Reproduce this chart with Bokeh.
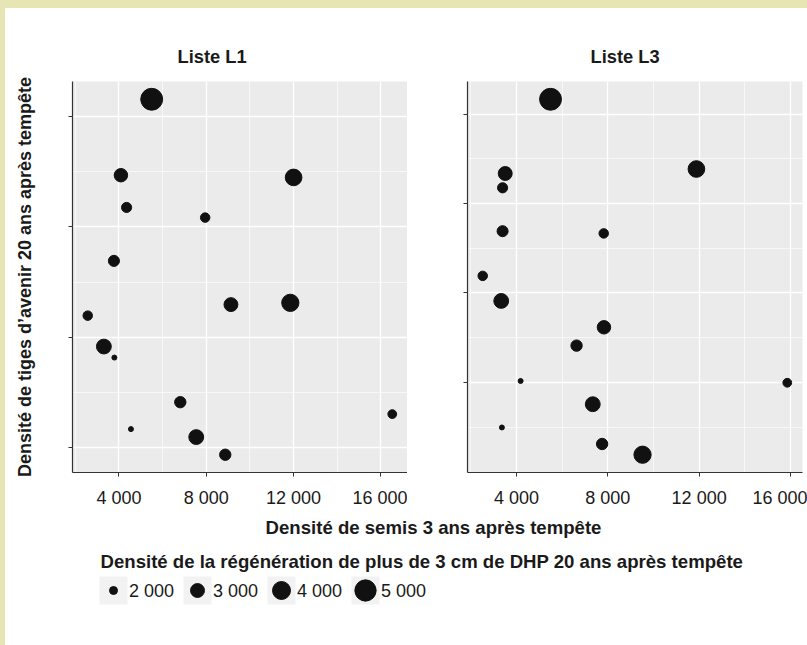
from bokeh.plotting import figure
from bokeh.layouts import column, row
from bokeh.models import (Spacer, Range1d, FixedTicker, CustomJSTickFormatter,
                          Label, ColumnDataSource)
from bokeh.core.properties import value
from bokeh.embed import file_html
from bokeh.resources import INLINE

# ---------------- data ----------------
l1_semis = [5500, 4090, 4350, 7950, 12000, 3770, 9130, 11850, 2570, 3310, 3790, 6810, 4550, 7540, 8870, 16520]
l1_tiges = [1039, 867, 794, 771, 862, 673, 574, 578, 549, 479, 454, 353, 292, 274, 234, 326]
l1_regen = [5200, 2900, 2300, 2200, 3650, 2450, 3000, 3800, 2200, 3200, 1700, 2500, 1700, 3200, 2500, 2100]

l3_semis = [5490, 3505, 3390, 11880, 3390, 7820, 2520, 3330, 7830, 6630, 4180, 15860, 7340, 3360, 7750, 9520]
l3_tiges = [1033, 867, 835, 877, 738, 733, 638, 582, 523, 482, 403, 399, 351, 299, 262, 238]
l3_regen = [5200, 3000, 2300, 3650, 2450, 2200, 2200, 3200, 2900, 2500, 1700, 2100, 3200, 1700, 2500, 3800]

x_ticks = [4000, 8000, 12000, 16000]
l1_y_ticks = [250, 500, 750, 1000]
l3_y_ticks = [400, 600, 800, 1000]
legend_values = [2000, 3000, 4000, 5000]
legend_labels = ["2 000", "3 000", "4 000", "5 000"]

panel_titles = ["Liste L1", "Liste L3"]
y_title = "Densité de tiges d’avenir 20 ans après tempête"
x_title = "Densité de semis 3 ans après tempête"
legend_title = "Densité de la régénération de plus de 3 cm de DHP 20 ans après tempête"

# ---------------- style ----------------
FONT = "Liberation Sans"
YELLOW = "#e6e5b3"
PANEL_BG = "#ebebeb"
KEY_BG = "#f2f2f2"
INK = "#111111"
TXT = "#1a1a1a"
AXIS = "#333333"


def size_of(v):
    # area-proportional size scale calibrated on the legend
    return (64 + 0.13 * (v - 2000)) ** 0.5


def expand(vals, f=0.05):
    lo, hi = min(vals), max(vals)
    pad = (hi - lo) * f
    return Range1d(lo - pad, hi + pad)


def minors(ticks):
    step = ticks[1] - ticks[0]
    return [ticks[0] - step / 2] + [t + step / 2 for t in ticks]


x_fmt = CustomJSTickFormatter(code="""
return Math.round(tick).toString().replace(/\\B(?=(\\d{3})+(?!\\d))/g, ' ');
""")
blank_fmt = CustomJSTickFormatter(code="return '';")


def panel(title, title_offset, xs, ys, regen, yticks, b_left, b_right, ylabel=None):
    p = figure(frame_width=335, frame_height=391,
               min_border_left=b_left, min_border_right=b_right,
               min_border_top=73, min_border_bottom=40,
               x_range=expand(xs), y_range=expand(ys),
               output_backend="svg", toolbar_location=None,
               background_fill_color=PANEL_BG, border_fill_color="white",
               outline_line_color=None, title=title)
    p.title.align = "left"
    p.title.offset = title_offset
    p.title.text_font = FONT
    p.title.text_font_size = "18.3px"
    p.title.text_font_style = "bold"
    p.title.text_color = TXT
    p.title.standoff = 30

    p.xaxis.ticker = FixedTicker(ticks=x_ticks, minor_ticks=minors(x_ticks))
    p.yaxis.ticker = FixedTicker(ticks=yticks, minor_ticks=minors(yticks))
    p.xaxis.formatter = x_fmt
    p.yaxis.formatter = blank_fmt
    for ax in (p.xaxis[0], p.yaxis[0]):
        ax.axis_line_color = AXIS
        ax.axis_line_width = 1.2
        ax.major_tick_line_color = AXIS
        ax.major_tick_out = 4
        ax.major_tick_in = 0
        ax.minor_tick_out = 0
        ax.minor_tick_in = 0
        ax.major_label_text_font = FONT
        ax.major_label_text_font_size = "18px"
        ax.major_label_text_color = TXT
    p.xaxis.major_label_standoff = 11
    if ylabel:
        p.yaxis.axis_label = ylabel
        p.yaxis.axis_label_text_font = FONT
        p.yaxis.axis_label_text_font_size = "18px"
        p.yaxis.axis_label_text_font_style = "bold"
        p.yaxis.axis_label_text_color = TXT
        p.yaxis.axis_label_standoff = 34

    for g in (p.xgrid[0], p.ygrid[0]):
        g.grid_line_color = "white"
        g.grid_line_width = 1.3
        g.minor_grid_line_color = "white"
        g.minor_grid_line_width = 0.6

    src = ColumnDataSource(dict(x=xs, y=ys, s=[size_of(v) for v in regen]))
    p.scatter("x", "y", size="s", source=src, fill_color=INK, line_color=INK)
    return p


p1 = panel(panel_titles[0], 105, l1_semis, l1_tiges, l1_regen, l1_y_ticks, 67, 0, y_title)
p2 = panel(panel_titles[1], 123, l3_semis, l3_tiges, l3_regen, l3_y_ticks, 60, 5)

# ---------------- bottom strip: x title + size legend ----------------
W3, H3 = 802, 133
p3 = figure(width=W3, height=H3, x_range=Range1d(0, W3), y_range=Range1d(H3, 0),
            min_border=0, x_axis_type=None, y_axis_type=None,
            output_backend="svg", toolbar_location=None,
            background_fill_color="white", border_fill_color="white",
            outline_line_color=None)
p3.grid.visible = False

p3.add_layout(Label(x=428, y=15, text=x_title, text_align="center",
                    text_baseline="middle", text_font=FONT, text_font_size="18.6px",
                    text_font_style="bold", text_color=TXT))
p3.add_layout(Label(x=95, y=49, text=legend_title, text_align="left",
                    text_baseline="middle", text_font=FONT, text_font_size="18.6px",
                    text_font_style="bold", text_color=TXT))

key0, key_step, key_w, key_y = 94, 84, 28, 78
kx = [key0 + key_w / 2 + i * key_step for i in range(len(legend_values))]
lsrc = ColumnDataSource(dict(
    x=kx, y=[key_y] * len(kx),
    s=[size_of(v) for v in legend_values],
    tx=[x + key_w / 2 + 1.5 for x in kx],
    label=legend_labels))
p3.rect("x", "y", width=key_w, height=key_w, source=lsrc,
        fill_color=KEY_BG, line_color=None)
p3.scatter("x", "y", size="s", source=lsrc, fill_color=INK, line_color=INK)
p3.text("tx", "y", text="label", source=lsrc, text_align="left",
        text_baseline="middle", text_font=value(FONT), text_font_size="18px",
        text_color=TXT)

top_strip = Spacer(width=807, height=8, styles={"background-color": YELLOW})
left_strip = Spacer(width=5, height=637, styles={"background-color": YELLOW})
layout = column(top_strip, row(left_strip, column(row(p1, p2), p3)))

open("out.html", "w").write(file_html(layout, INLINE))
